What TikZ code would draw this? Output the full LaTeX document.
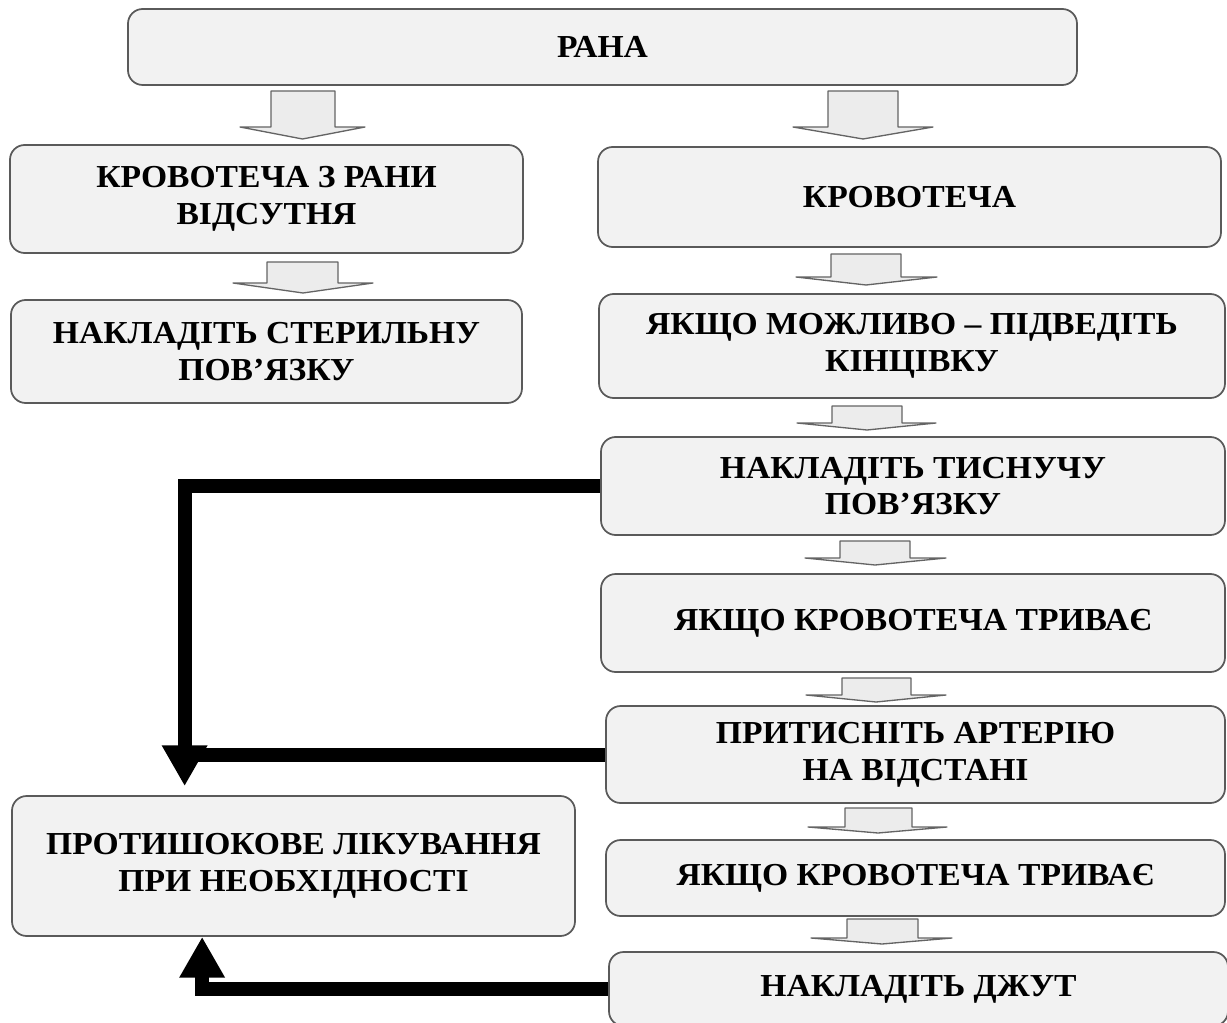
\documentclass[tikz,border=0pt]{standalone}
\usepackage{fontspec}
\setmainfont{Liberation Serif}[FakeStretch=1.05]
\usepackage{tikz}
\usetikzlibrary{arrows.meta}

\begin{document}
\begin{tikzpicture}[x=0.75pt,y=0.75pt,yscale=-1,xscale=1,
  box/.style={draw={rgb, 255:red, 90; green, 90; blue, 90}, line width=1.3pt, fill={rgb, 255:red, 242; green, 242; blue, 242}, rounded corners=11pt, align=center, inner sep=0pt, font=\bfseries\fontsize{24}{27.5}\selectfont},
  blockarr/.style={draw={rgb, 255:red, 100; green, 100; blue, 100}, line width=1pt, fill={rgb, 255:red, 236; green, 236; blue, 236}, line join=round},
  heavy/.style={line width=10.5pt, -{Triangle[length=30.5pt,width=32pt]}}]
%set diagram size
\path [fill=white] (0,0) rectangle (1227,1023) ;
\useasboundingbox (0,0) rectangle (1227,1023) ;

% Boxes
\node [box, minimum width=711.75pt, minimum height=57pt] (rana) at (602.5,47) {РАНА};
\node [box, minimum width=384.75pt, minimum height=81pt] (nobleed) at (266.5,199) {КРОВОТЕЧА З РАНИ\\ВІДСУТНЯ};
\node [box, minimum width=383.25pt, minimum height=77.25pt] (sterile) at (266.5,351.5) {НАКЛАДІТЬ СТЕРИЛЬНУ\\ПОВ’ЯЗКУ};
\node [box, minimum width=467.25pt, minimum height=75pt] (bleed) at (909.5,197) {КРОВОТЕЧА};
\node [box, minimum width=469.5pt, minimum height=78pt] (raise) at (912,346) {ЯКЩО МОЖЛИВО – ПІДВЕДІТЬ\\КІНЦІВКУ};
\node [box, minimum width=468pt, minimum height=73.5pt] (press) at (913,486) {НАКЛАДІТЬ ТИСНУЧУ\\ПОВ’ЯЗКУ};
\node [box, minimum width=468pt, minimum height=73.5pt] (goon) at (913,623) {ЯКЩО КРОВОТЕЧА ТРИВАЄ};
\node [box, minimum width=464.25pt, minimum height=72.75pt] (artery) at (915.5,754.5) {ПРИТИСНІТЬ АРТЕРІЮ\\НА ВІДСТАНІ};
\node [box, minimum width=464.25pt, minimum height=57pt] (goonb) at (915.5,878) {ЯКЩО КРОВОТЕЧА ТРИВАЄ};
\node [box, minimum width=464.25pt, minimum height=55.5pt] (tourn) at (918.5,989) {НАКЛАДІТЬ ДЖУТ};
\node [box, minimum width=422.25pt, minimum height=105pt] (shock) at (293.5,866) {ПРОТИШОКОВЕ ЛІКУВАННЯ\\ПРИ НЕОБХІДНОСТІ};

%Shape: Block arrows
\draw [blockarr] (271,91) -- (335,91) -- (335,127) -- (365,127) -- (302.5,139) -- (240,127) -- (271,127) -- cycle ;
\draw [blockarr] (828,91) -- (898,91) -- (898,127) -- (933,127) -- (863,139) -- (793,127) -- (828,127) -- cycle ;
\draw [blockarr] (267,262) -- (338,262) -- (338,283) -- (373,283) -- (303,293) -- (233,283) -- (267,283) -- cycle ;
\draw [blockarr] (831,254) -- (901,254) -- (901,277) -- (937,277) -- (866,285) -- (796,277) -- (831,277) -- cycle ;
\draw [blockarr] (832,406) -- (902,406) -- (902,423) -- (936,423) -- (867,430) -- (797,423) -- (832,423) -- cycle ;
\draw [blockarr] (840,541) -- (910,541) -- (910,558) -- (946,558) -- (875,565) -- (805,558) -- (840,558) -- cycle ;
\draw [blockarr] (842,678) -- (911,678) -- (911,695) -- (946,695) -- (876,702) -- (806,695) -- (842,695) -- cycle ;
\draw [blockarr] (845,808) -- (912,808) -- (912,827) -- (947,827) -- (878,833) -- (808,827) -- (845,827) -- cycle ;
\draw [blockarr] (847,919) -- (918,919) -- (918,938) -- (952,938) -- (882,944) -- (811,938) -- (847,938) -- cycle ;

%Straight Lines: thick connectors to the shock box
\path (shock.north west) ++(173.5,-9) coordinate (intop) ;
\path (shock.south west) ++(191,0) coordinate (inbot) ;
\draw [heavy] (press.west) -| (intop) ;
\draw [line width=10.5pt] (artery.west) -- (artery.west -| intop) ;
\draw [heavy] (tourn.west) -| (inbot) ;

\end{tikzpicture}
\end{document}
